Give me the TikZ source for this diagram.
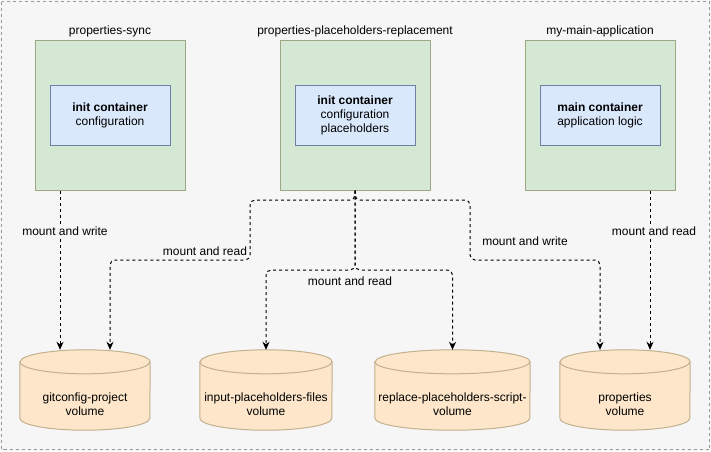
\documentclass[tikz,border=0pt]{standalone}
\usepackage{fontspec}
\setmainfont{Liberation Sans}
\usetikzlibrary{arrows.meta}
\definecolor{bgc}{HTML}{F6F6F6}
\definecolor{podfill}{HTML}{D5E8D4}
\definecolor{podline}{HTML}{9DA784}
\definecolor{ctrfill}{HTML}{DAE8FC}
\definecolor{ctrline}{HTML}{6E80A6}
\definecolor{volfillc}{HTML}{FDE6CA}
\definecolor{vollinec}{HTML}{C2B08E}
\newcommand\volcyl[2]{%
  \path[fill=volfillc] ([yshift=-12pt]#1.north west) -- ([yshift=12pt]#1.south west)
    arc[start angle=180,end angle=360,x radius=#2pt,y radius=12pt]
    -- ([yshift=-12pt]#1.north east)
    arc[start angle=0,end angle=180,x radius=#2pt,y radius=12pt] -- cycle;
  \draw[vollinec, line width=1pt] ([yshift=-12pt]#1.north west) -- ([yshift=12pt]#1.south west)
    arc[start angle=180,end angle=360,x radius=#2pt,y radius=12pt]
    -- ([yshift=-12pt]#1.north east)
    arc[start angle=0,end angle=180,x radius=#2pt,y radius=12pt] -- cycle;
  \draw[vollinec, line width=1pt] ([yshift=-12pt]#1.north west)
    arc[start angle=180,end angle=360,x radius=#2pt,y radius=12pt];
}
\tikzset{
  pod/.style={draw=podline, fill=podfill, line width=1pt, minimum width=150pt, minimum height=150pt, inner sep=0pt},
  ctr/.style={draw=ctrline, fill=ctrfill, line width=1pt, minimum width=120pt, minimum height=60pt, align=center, inner sep=0pt},
  volbox/.style={minimum height=80pt, inner sep=0pt},
  voltext/.style={align=center, inner sep=0pt},
  title/.style={inner sep=0pt},
  link/.style={black, line width=1pt, dash pattern=on 3pt off 3pt, rounded corners=5pt,
    -{Stealth[length=8pt, width=7pt, inset=2.5pt]}},
  lbl/.style={fill=bgc, inner sep=1pt}
}
\begin{document}
\begin{tikzpicture}[x=1pt, y=-1pt, font=\fontsize{12}{14}\selectfont]
\useasboundingbox (0,0) rectangle (711,451);
\fill[bgc] (0,0) rectangle (711,451);
\draw[gray!80, line width=0.8pt, dash pattern=on 3pt off 3pt] (1.5,1.5) rectangle (709.5,449.5);

% pods
\node[pod] (g1) at (110,115) {};
\node[pod] (g2) at (355,115) {};
\node[pod] (g3) at (600,115) {};
\node[ctr] (b1) at (110,115) {\textbf{init container}\\configuration};
\node[ctr] (b2) at (355,115) {\textbf{init container}\\configuration\\placeholders};
\node[ctr] (b3) at (600,115) {\textbf{main container}\\application logic};
\node[title] (t1) at (110,31) {properties-sync};
\node[title] (t2) at (355,31) {properties-placeholders-replacement};
\node[title] (t3) at (600,31) {my-main-application};

% volumes
\node[volbox, minimum width=130pt] (c1) at (85,390) {};
\node[volbox, minimum width=132pt] (c2) at (266,390) {};
\node[volbox, minimum width=155pt] (c3) at (452.5,390) {};
\node[volbox, minimum width=130pt] (c4) at (625,390) {};
\volcyl{c1}{65}
\volcyl{c2}{66}
\volcyl{c3}{77.5}
\volcyl{c4}{65}
\node[voltext] (c1t) at (85,404) {gitconfig-project\\volume};
\node[voltext] (c2t) at (266,404) {input-placeholders-files\\volume};
\node[voltext] (c3t) at (452.5,404) {replace-placeholders-script-\\volume};
\node[voltext] (c4t) at (625,404) {properties\\volume};

% connectors
\draw[link] ([xshift=-50pt]g1.south) -- ([xshift=-25pt]c1.north);
\draw[link] (g2.south) -- (355,200) -- (250,200) -- (250,260) -- (110,260) -- ([xshift=25pt]c1.north);
\draw[link] (g2.south) -- (355,270) -- (266,270) -- (c2.north);
\draw[link] (g2.south) -- (355,270) -- (452.5,270) -- (c3.north);
\draw[link] (g2.south) -- (355,200) -- (470,200) -- (470,260) -- (600,260) -- ([xshift=-25pt]c4.north);
\draw[link] ([xshift=50pt]g3.south) -- ([xshift=25pt]c4.north);

% labels
\node[lbl] (l1) at (65,231) {mount and write};
\node[lbl] (l2) at (205,251) {mount and read};
\node[lbl] (l3) at (350,281) {mount and read};
\node[lbl] (l4) at (525,241) {mount and write};
\node[lbl] (l5) at (654,231) {mount and read};
\end{tikzpicture}
\end{document}
